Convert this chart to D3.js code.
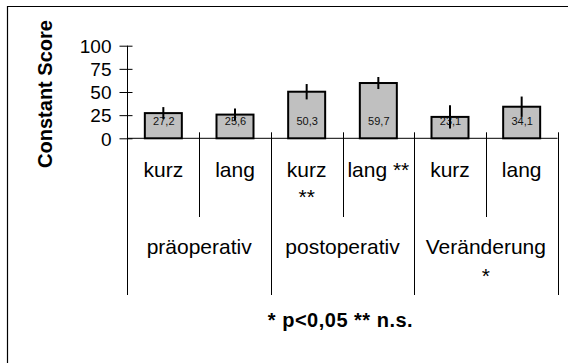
<!DOCTYPE html>
<html>
<head>
<meta charset="utf-8">
<script src="https://cdn.jsdelivr.net/npm/d3@7"></script>
<style>
  html, body { margin: 0; padding: 0; background: #fff; overflow: hidden; }
  svg { display: block; font-family: Arial, "Liberation Sans", sans-serif; }
</style>
</head>
<body>
<svg id="chart" width="568" height="363"></svg>
<script>
// Constant Score bars, grouped by time point, with error bars.

const groupLabels = [['präoperativ'], ['postoperativ'], ['Veränderung', '*']];
const categoryLabels = [['kurz'], ['lang'], ['kurz', '**'], ['lang **'], ['kurz'], ['lang']];
const values = [27.2, 25.6, 50.3, 59.7, 23.1, 34.1];
const errors = [6.5, 6.5, 8.3, 6.5, 12.5, 11];
const yTicks = [0, 25, 50, 75, 100];
const yTitle = 'Constant Score';
const footnote = '* p<0,05 ** n.s.';

const de = d3.formatLocale({ decimal: ',', thousands: '.', grouping: [3], currency: ['', ' €'] });
const fmt = de.format('.1f');

const svg = d3.select('#chart');

// outer frame (only top/left edges fall inside the picture)
svg.append('path')
  .attr('d', 'M7.5,363V6.5H568')
  .attr('fill', 'none').attr('stroke', '#000').attr('stroke-width', 1.2);

const x0 = 127.5, x1 = 557.5;
const baseY = 138.3;

const x = d3.scaleBand().domain(d3.range(values.length)).range([x0, x1]);
const y = d3.scaleLinear().domain([0, 100]).range([baseY, 45.7]);

// y axis
const yAxis = svg.append('g')
  .attr('transform', `translate(${x0},0)`)
  .call(d3.axisLeft(y).tickValues(yTicks).tickSize(8).tickPadding(8));
yAxis.select('.domain').remove();
yAxis.selectAll('.tick line').attr('x1', 5).attr('stroke', '#000');
yAxis.selectAll('.tick text')
  .attr('font-size', 19).attr('font-family', 'Arial, "Liberation Sans", sans-serif')
  .attr('fill', '#000').attr('dy', '0.36em');

// axis line, extended down through the label rows
svg.append('line')
  .attr('x1', x0).attr('x2', x0).attr('y1', y(100)).attr('y2', 295)
  .attr('stroke', '#000');

// baseline
svg.append('line')
  .attr('x1', x0).attr('x2', x1).attr('y1', baseY).attr('y2', baseY)
  .attr('stroke', '#000');

// separators between categories / groups
const seps = d3.range(1, values.length + 1);
svg.selectAll('.sep')
  .data(seps)
  .enter().append('line')
  .attr('class', 'sep')
  .attr('x1', i => Math.round(x0 + i * x.step()) + 0.5)
  .attr('x2', i => Math.round(x0 + i * x.step()) + 0.5)
  .attr('y1', baseY - 6)
  .attr('y2', i => i % 2 === 0 ? 295 : 217)
  .attr('stroke', '#000');

// bars
const bw = 37;
svg.selectAll('.bar')
  .data(values)
  .enter().append('rect')
  .attr('class', 'bar')
  .attr('x', (d, i) => x(i) + x.bandwidth() / 2 - bw / 2)
  .attr('y', d => y(d))
  .attr('width', bw)
  .attr('height', d => baseY - y(d))
  .attr('fill', '#c0c0c0')
  .attr('stroke', '#000')
  .attr('stroke-width', 2);

// value labels
svg.selectAll('.val')
  .data(values)
  .enter().append('text')
  .attr('class', 'val')
  .attr('x', (d, i) => x(i) + x.bandwidth() / 2 + 0.5)
  .attr('y', 125)
  .attr('text-anchor', 'middle')
  .attr('font-size', 11)
  .attr('fill', '#111')
  .text(d => fmt(d));

// error bars
svg.selectAll('.err')
  .data(values)
  .enter().append('line')
  .attr('class', 'err')
  .attr('x1', (d, i) => x(i) + x.bandwidth() / 2)
  .attr('x2', (d, i) => x(i) + x.bandwidth() / 2)
  .attr('y1', (d, i) => y(d + errors[i]))
  .attr('y2', (d, i) => y(d - errors[i]))
  .attr('stroke', '#000')
  .attr('stroke-width', 2);

// category labels
const cat = svg.selectAll('.cat')
  .data(categoryLabels)
  .enter().append('text')
  .attr('class', 'cat')
  .attr('text-anchor', 'middle')
  .attr('font-size', 21)
  .attr('fill', '#000');
cat.selectAll('tspan')
  .data((lines, i) => lines.map(t => ({ t, i })))
  .enter().append('tspan')
  .attr('x', d => x(d.i) + x.bandwidth() / 2)
  .attr('y', (d, j) => 177 + j * 27)
  .text(d => d.t);

// group labels
const grp = svg.selectAll('.grp')
  .data(groupLabels)
  .enter().append('text')
  .attr('class', 'grp')
  .attr('text-anchor', 'middle')
  .attr('font-size', 21)
  .attr('fill', '#000');
grp.selectAll('tspan')
  .data((lines, i) => lines.map(t => ({ t, i })))
  .enter().append('tspan')
  .attr('x', d => x(d.i * 2) + x.step())
  .attr('y', (d, j) => 254 + j * 29)
  .text(d => d.t);

// y title
svg.append('text')
  .attr('transform', 'translate(52,94) rotate(-90)')
  .attr('text-anchor', 'middle')
  .attr('font-size', 20)
  .attr('font-weight', 'bold')
  .text(yTitle);

// footnote
svg.append('text')
  .attr('x', (x0 + x1) / 2 - 2)
  .attr('y', 327)
  .attr('text-anchor', 'middle')
  .attr('font-size', 20)
  .attr('font-weight', 'bold')
  .attr('letter-spacing', 0.5)
  .text(footnote);
</script>
</body>
</html>
